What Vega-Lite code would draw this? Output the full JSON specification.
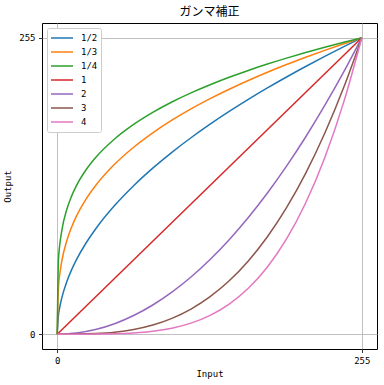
{
  "$schema": "https://vega.github.io/schema/vega-lite/v6.json",
  "width": 335,
  "height": 326,
  "autosize": {"type": "none"},
  "padding": {"left": 42, "top": 23, "right": 7, "bottom": 36},
  "background": "white",
  "title": {"text": "ガンマ補正", "font": "Noto Sans CJK JP", "fontSize": 12, "fontWeight": "normal", "color": "black", "offset": 4},
  "config": {
    "view": {"stroke": "black", "strokeWidth": 1},
    "axis": {
      "labelFont": "DejaVu Sans Mono", "labelFontSize": 9, "labelColor": "black",
      "titleFont": "DejaVu Sans Mono", "titleFontSize": 9, "titleFontWeight": "normal", "titleColor": "black",
      "tickColor": "black", "tickSize": 3.5, "tickWidth": 0.8, "domain": false,
      "grid": true, "gridColor": "#b0b0b0", "gridWidth": 0.8, "labelPadding": 3.5
    }
  },
  "data": {"values": [
    {"g":"1/2","x":0,"y":0},{"g":"1/2","x":1,"y":15.97},{"g":"1/2","x":2,"y":22.58},{"g":"1/2","x":4,"y":31.94},{"g":"1/2","x":8,"y":45.17},{"g":"1/2","x":12,"y":55.32},{"g":"1/2","x":16,"y":63.87},{"g":"1/2","x":24,"y":78.23},{"g":"1/2","x":32,"y":90.33},{"g":"1/2","x":48,"y":110.63},{"g":"1/2","x":64,"y":127.75},{"g":"1/2","x":80,"y":142.83},{"g":"1/2","x":96,"y":156.46},{"g":"1/2","x":112,"y":169.0},{"g":"1/2","x":128,"y":180.67},{"g":"1/2","x":144,"y":191.62},{"g":"1/2","x":160,"y":201.99},{"g":"1/2","x":176,"y":211.85},{"g":"1/2","x":192,"y":221.27},{"g":"1/2","x":208,"y":230.3},{"g":"1/2","x":224,"y":239.0},{"g":"1/2","x":240,"y":247.39},{"g":"1/2","x":255,"y":255},
    {"g":"1/3","x":0,"y":0},{"g":"1/3","x":1,"y":40.21},{"g":"1/3","x":2,"y":50.67},{"g":"1/3","x":4,"y":63.83},{"g":"1/3","x":8,"y":80.43},{"g":"1/3","x":12,"y":92.06},{"g":"1/3","x":16,"y":101.33},{"g":"1/3","x":24,"y":115.99},{"g":"1/3","x":32,"y":127.67},{"g":"1/3","x":48,"y":146.14},{"g":"1/3","x":64,"y":160.85},{"g":"1/3","x":80,"y":173.27},{"g":"1/3","x":96,"y":184.13},{"g":"1/3","x":112,"y":193.84},{"g":"1/3","x":128,"y":202.66},{"g":"1/3","x":144,"y":210.77},{"g":"1/3","x":160,"y":218.31},{"g":"1/3","x":176,"y":225.35},{"g":"1/3","x":192,"y":231.99},{"g":"1/3","x":208,"y":238.24},{"g":"1/3","x":224,"y":244.22},{"g":"1/3","x":240,"y":249.9},{"g":"1/3","x":255,"y":255},
    {"g":"1/4","x":0,"y":0},{"g":"1/4","x":1,"y":63.81},{"g":"1/4","x":2,"y":75.89},{"g":"1/4","x":4,"y":90.24},{"g":"1/4","x":8,"y":107.32},{"g":"1/4","x":12,"y":118.77},{"g":"1/4","x":16,"y":127.63},{"g":"1/4","x":24,"y":141.24},{"g":"1/4","x":32,"y":151.77},{"g":"1/4","x":48,"y":167.96},{"g":"1/4","x":64,"y":180.49},{"g":"1/4","x":80,"y":190.84},{"g":"1/4","x":96,"y":199.74},{"g":"1/4","x":112,"y":207.59},{"g":"1/4","x":128,"y":214.64},{"g":"1/4","x":144,"y":221.05},{"g":"1/4","x":160,"y":226.95},{"g":"1/4","x":176,"y":232.42},{"g":"1/4","x":192,"y":237.54},{"g":"1/4","x":208,"y":242.34},{"g":"1/4","x":224,"y":246.87},{"g":"1/4","x":240,"y":251.16},{"g":"1/4","x":255,"y":255},
    {"g":"1","x":0,"y":0},{"g":"1","x":255,"y":255},
    {"g":"2","x":0,"y":0},{"g":"2","x":16,"y":1.0},{"g":"2","x":32,"y":4.02},{"g":"2","x":48,"y":9.04},{"g":"2","x":64,"y":16.06},{"g":"2","x":80,"y":25.1},{"g":"2","x":96,"y":36.14},{"g":"2","x":112,"y":49.19},{"g":"2","x":128,"y":64.25},{"g":"2","x":144,"y":81.32},{"g":"2","x":160,"y":100.39},{"g":"2","x":176,"y":121.47},{"g":"2","x":192,"y":144.56},{"g":"2","x":208,"y":169.66},{"g":"2","x":224,"y":196.77},{"g":"2","x":240,"y":225.88},{"g":"2","x":255,"y":255},
    {"g":"3","x":0,"y":0},{"g":"3","x":16,"y":0.06},{"g":"3","x":32,"y":0.5},{"g":"3","x":48,"y":1.7},{"g":"3","x":64,"y":4.03},{"g":"3","x":80,"y":7.87},{"g":"3","x":96,"y":13.61},{"g":"3","x":112,"y":21.61},{"g":"3","x":128,"y":32.25},{"g":"3","x":144,"y":45.92},{"g":"3","x":160,"y":62.99},{"g":"3","x":176,"y":83.84},{"g":"3","x":192,"y":108.85},{"g":"3","x":208,"y":138.39},{"g":"3","x":224,"y":172.85},{"g":"3","x":240,"y":212.6},{"g":"3","x":255,"y":255},
    {"g":"4","x":0,"y":0},{"g":"4","x":16,"y":0.0},{"g":"4","x":32,"y":0.06},{"g":"4","x":48,"y":0.32},{"g":"4","x":64,"y":1.01},{"g":"4","x":80,"y":2.47},{"g":"4","x":96,"y":5.12},{"g":"4","x":112,"y":9.49},{"g":"4","x":128,"y":16.19},{"g":"4","x":144,"y":25.93},{"g":"4","x":160,"y":39.52},{"g":"4","x":176,"y":57.87},{"g":"4","x":192,"y":81.96},{"g":"4","x":208,"y":112.88},{"g":"4","x":224,"y":151.83},{"g":"4","x":240,"y":200.09},{"g":"4","x":255,"y":255}
  ]},
  "mark": {"type": "line", "strokeWidth": 1.5, "interpolate": "monotone"},
  "encoding": {
    "x": {"field": "x", "type": "quantitative", "title": "Input",
      "scale": {"domain": [-12.75, 267.75], "nice": false, "zero": false},
      "axis": {"values": [0, 255], "titlePadding": 4}},
    "y": {"field": "y", "type": "quantitative", "title": "Output",
      "scale": {"domain": [-12.75, 267.75], "nice": false, "zero": false},
      "axis": {"values": [0, 255], "titlePadding": 6}},
    "color": {"field": "g", "type": "nominal",
      "scale": {"domain": ["1/2", "1/3", "1/4", "1", "2", "3", "4"],
        "range": ["#1f77b4", "#ff7f0e", "#2ca02c", "#d62728", "#9467bd", "#8c564b", "#e377c2"]},
      "legend": {"title": null, "orient": "none", "legendX": 5, "legendY": 5,
        "symbolType": "stroke", "symbolSize": 484, "symbolStrokeWidth": 1.5, "clipHeight": 14,
        "labelFont": "DejaVu Sans Mono", "labelFontSize": 9, "labelColor": "black", "labelOffset": 7,
        "padding": 3, "fillColor": "white", "strokeColor": "#cccccc", "cornerRadius": 2, "rowPadding": 0}
    },
    "order": {"field": "x", "type": "quantitative"}
  }
}
